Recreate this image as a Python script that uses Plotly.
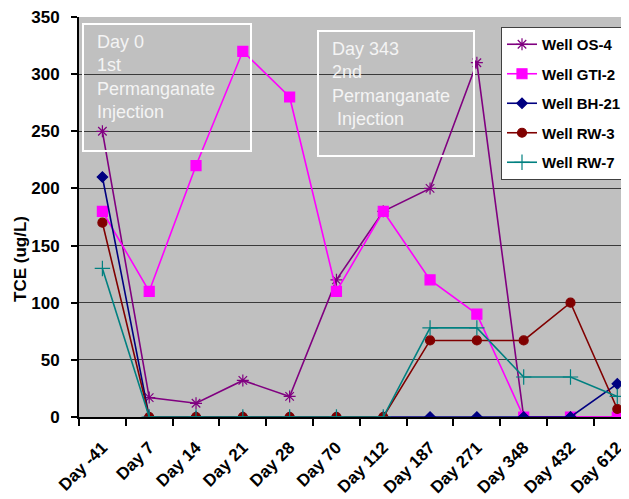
import plotly.graph_objects as go

categories = ["Day -41", "Day 7", "Day 14", "Day 21", "Day 28", "Day 70",
              "Day 112", "Day 187", "Day 271", "Day 348", "Day 432", "Day 612"]
well_os4 = [250, 17, 12, 32, 18, 120, 180, 200, 310, 0, 0, 0]
well_gti2 = [180, 110, 220, 320, 280, 110, 180, 120, 90, 0, 0, 0]
well_bh21 = [210, 0, 0, 0, 0, 0, 0, 0, 0, 0, 0, 29]
well_rw3 = [170, 0, 0, 0, 0, 0, 0, 67, 67, 67, 100, 7]
well_rw7 = [130, 0, 0, 0, 0, 0, 0, 78, 78, 35, 35, 18]
y_ticks = [0, 50, 100, 150, 200, 250, 300, 350]

FONT = "Liberation Sans, Arial, sans-serif"

series = [
    ("Well OS-4", well_os4, "#800080", "asterisk-open", 10),
    ("Well GTI-2", well_gti2, "#FF00FF", "square", 10),
    ("Well BH-21", well_bh21, "#000080", "diamond", 8),
    ("Well RW-3", well_rw3, "#800000", "circle", 9),
    ("Well RW-7", well_rw7, "#008080", "cross-thin-open", 11),
]

fig = go.Figure()
for i, (name, vals, color, sym, size) in enumerate(series):
    fig.add_trace(go.Scatter(
        x=categories, y=vals, name=name, mode="lines+markers",
        legendgroup=f"g{i}",
        line=dict(color=color, width=1.6),
        marker=dict(symbol=sym, size=size, color=color,
                    line=dict(color=color, width=1.2)),
    ))

# page body has an 8px margin: the figure starts at screen (8, 8)
OFF = 8
FIG_W, FIG_H = 629 - OFF, 499 - OFF
# plot area in screen pixels
L, T, R, B = 79, 17, 629, 417
W, H = R - L, B - T

def px(x):
    return (x - L) / W

def py(y):
    return (B - y) / H

for (x0, x1, y0, y1) in [(83, 251, 24, 151), (318, 474, 31, 156)]:
    fig.add_shape(type="rect", xref="paper", yref="paper",
                  x0=px(x0), x1=px(x1), y0=py(y1), y1=py(y0),
                  line=dict(color="white", width=2), fillcolor="rgba(0,0,0,0)")

fig.add_annotation(xref="paper", yref="paper", x=px(95), y=py(77),
                   xanchor="left", yanchor="middle", align="left", showarrow=False,
                   text="Day 0<br>1st<br>Permanganate<br>Injection",
                   font=dict(family=FONT, size=18, color="#F4F4F4"))
fig.add_annotation(xref="paper", yref="paper", x=px(330), y=py(84),
                   xanchor="left", yanchor="middle", align="left", showarrow=False,
                   text="Day 343<br>2nd<br>Permanganate<br> Injection",
                   font=dict(family=FONT, size=18, color="#F4F4F4"))

fig.add_annotation(xref="paper", yref="paper", x=px(20), y=py(259),
                   xanchor="center", yanchor="middle", showarrow=False,
                   textangle=-90, text="TCE (ug/L)",
                   font=dict(family=FONT, size=17, color="black", weight="bold"))

fig.update_layout(
    width=FIG_W, height=FIG_H,
    margin=dict(l=L - OFF, r=629 - R, t=T - OFF, b=499 - B, pad=0, autoexpand=False),
    paper_bgcolor="white", plot_bgcolor="#C0C0C0",
    font=dict(family=FONT, color="black"),
    showlegend=True,
    legend=dict(x=px(501), y=py(27), xanchor="left", yanchor="top",
                bgcolor="white", bordercolor="#404040", borderwidth=1,
                font=dict(family=FONT, size=15, color="black", weight="bold"),
                tracegroupgap=7, itemwidth=30),
    xaxis=dict(type="category", categoryorder="array", categoryarray=categories,
               range=[-0.5, 11.25], showgrid=False, zeroline=False, automargin=False,
               showline=True, linecolor="black", linewidth=2,
               ticks="outside", tickson="boundaries", ticklen=7, tickwidth=2,
               tickcolor="black", tickangle=-45, ticklabelstandoff=12,
               ticklabeloverflow="allow",
               tickfont=dict(family=FONT, size=17, color="black", weight="bold")),
    yaxis=dict(range=[0, 350], tickvals=y_ticks, showgrid=True, automargin=False,
               gridcolor="#3A3A3A", gridwidth=1, zeroline=False,
               showline=True, linecolor="black", linewidth=2,
               ticks="outside", ticklen=6, tickwidth=2, tickcolor="black",
               ticklabelstandoff=8, ticklabeloverflow="allow",
               tickfont=dict(family=FONT, size=17, color="black", weight="bold")),
)

fig.write_html("out.html")
